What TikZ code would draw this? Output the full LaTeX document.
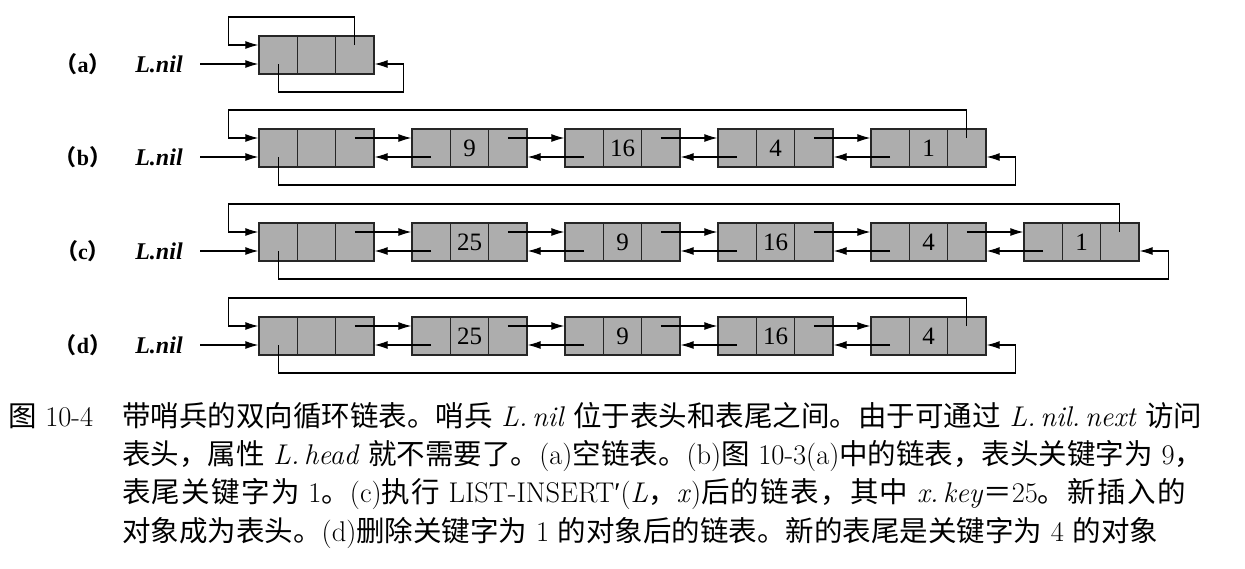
\documentclass[tikz,border=0pt]{standalone}
\usepackage{fontspec}
\usetikzlibrary{arrows.meta}
\newfontfamily\cjk{Noto Sans CJK SC}
\newfontfamily\cjkwide{Noto Sans CJK SC}[LetterSpace=4.6]
\newfontfamily\tms{Liberation Serif}
\XeTeXlinebreaklocale "zh"
\XeTeXlinebreakskip=0pt plus 3pt

\tikzset{
  cell/.style={draw=black!85, fill=black!32, line width=1.4pt, minimum width=38.3pt, minimum height=38pt, inner sep=0pt, font=\tms\fontsize{25}{25}\selectfont},
  link/.style={line width=1.1pt, -{Latex[length=13pt,width=8pt]}},
  tag/.style={font=\tms\bfseries\fontsize{22}{22}\selectfont},
  nil/.style={font=\tms\bfseries\itshape\fontsize{24}{24}\selectfont},
  capline/.style={anchor=base west, inner sep=0pt, font=\fontsize{28.5}{38}\selectfont},
  capfull/.style={capline, text width=1108pt, align=justify}
}

% one circular list with sentinel: row name, y of the row, keys (first one empty)
\newcommand{\clist}[3]{%
  \foreach \k [count=\i from 0] in {#3} {
    \node[cell] (#1\i p) at ({278.2+153*\i},#2) {};
    \node[cell] (#1\i k) at ({316.5+153*\i},#2) {\k};
    \node[cell] (#1\i n) at ({354.8+153*\i},#2) {};
    \xdef\lastcell{\i}
  }
  \ifnum\lastcell>0
    \foreach \i [remember=\i as \j (initially 0)] in {1,...,\lastcell} {
      \draw[link] ([yshift=10pt]#1\j n.center) -- ([yshift=10pt]#1\i p.west);
      \draw[link] ([yshift=-9pt]#1\i p.center) -- ([yshift=-9pt]#1\j n.east);
    }
  \fi
  \draw[link] ([yshift=10pt]#1\lastcell n.center) |- ([xshift=-30pt,yshift=38pt]#10p.west) |- ([yshift=10pt]#10p.west);
  \draw[link] ([yshift=-9pt]#10p.center) |- ([xshift=29pt,yshift=-37pt]#1\lastcell n.east) |- ([yshift=-9pt]#1\lastcell n.east);
  \node[tag] (#1tag) at (83,#2+9) {{\cjk（}#1{\cjk）}};
  \node[nil] (#1nil) at (159,#2+9) {L.nil};
  \draw[link] ([xshift=14pt]#1nil.east) -- (#10p.west |- #1nil.east);
}

\begin{document}
\begin{tikzpicture}[x=1pt,y=-1pt]
  \useasboundingbox (0,0) rectangle (1245,568);

  \clist{a}{55}{{}}
  \clist{b}{148}{{},9,16,4,1}
  \clist{c}{242}{{},25,9,16,4,1}
  \clist{d}{336}{{},25,9,16,4}

  % caption
  \node[capline] (fig) at (8,426) {{\cjk 图} 10-4};
  \node[capfull] (cap1) at (122,426) {\parfillskip=0pt {\cjk 带哨兵的双向循环链表。哨兵} \textit{L.\,nil} {\cjk 位于表头和表尾之间。由于可通过} \textit{L.\,nil.\,next} {\cjk 访问}};
  \node[capfull] (cap2) at (122,464) {\parfillskip=0pt {\cjk 表头，属性} \textit{L.\,head} {\cjk 就不需要了。}(a){\cjk 空链表。}(b){\cjk 图} 10-3(a){\cjk 中的链表，表头关键字为} 9{\cjk ，}};
  \node[capline] (cap3) at (122,502) {{\cjkwide 表尾关键字为} 1{\cjkwide 。}(c){\cjkwide 执行} LIST-INSERT{\tms ′}(\textit{L}{\cjkwide ，}\textit{x}){\cjkwide 后的链表，其中} \textit{x.\,key}{\cjkwide ＝}25{\cjkwide 。新插入的}};
  \node[capline] (cap4) at (122,541) {{\cjk 对象成为表头。}(d){\cjk 删除关键字为} 1 {\cjk 的对象后的链表。新的表尾是关键字为} 4 {\cjk 的对象}};
\end{tikzpicture}
\end{document}
